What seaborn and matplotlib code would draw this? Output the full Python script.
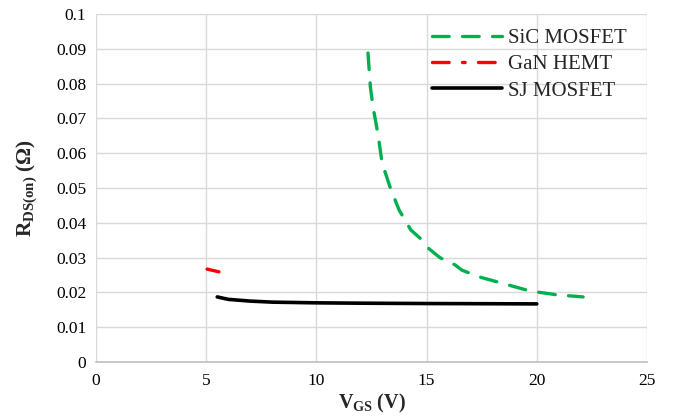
import matplotlib
matplotlib.use("Agg")
import matplotlib.pyplot as plt
import seaborn as sns
import pandas as pd

# Data
sic_vgs = [12.34, 12.45, 12.57, 12.8, 12.98, 13.34, 13.75, 14.29, 14.70, 15.06,
           15.6, 16.29, 16.6, 17.42, 18.56, 19.69, 20.92, 22.1]
sic_rds = [0.0888, 0.0790, 0.0733, 0.0652, 0.0572, 0.0503, 0.0437, 0.0379, 0.0356, 0.0328,
           0.0300, 0.0279, 0.0264, 0.0244, 0.0224, 0.0204, 0.0193, 0.0187]

gan_vgs = [5.04, 5.58]
gan_rds = [0.0267, 0.0259]

sj_vgs = [5.5, 6.0, 7.0, 8.0, 10.0, 12.0, 15.0, 20.0]
sj_rds = [0.0187, 0.0180, 0.0175, 0.0172, 0.0170, 0.0169, 0.0168, 0.0167]

x_ticks = [0, 5, 10, 15, 20, 25]
y_ticks = [0, 0.01, 0.02, 0.03, 0.04, 0.05, 0.06, 0.07, 0.08, 0.09, 0.1]
y_tick_labels = ["0", "0.01", "0.02", "0.03", "0.04", "0.05", "0.06", "0.07", "0.08", "0.09", "0.1"]

sns.set_style("white")
plt.rcParams["font.family"] = ["Liberation Serif", "DejaVu Serif"]
plt.rcParams["mathtext.fontset"] = "custom"
plt.rcParams["mathtext.rm"] = "Liberation Serif"
plt.rcParams["mathtext.bf"] = "Liberation Serif:bold"
plt.rcParams["mathtext.it"] = "Liberation Serif:italic"

fig = plt.figure(figsize=(6.79, 4.18), dpi=100)
ax = fig.add_axes([96 / 679, 1 - 362 / 418, (647 - 96) / 679, (362 - 14) / 418])

df_sic = pd.DataFrame({"x": sic_vgs, "y": sic_rds})
df_gan = pd.DataFrame({"x": gan_vgs, "y": gan_rds})
df_sj = pd.DataFrame({"x": sj_vgs, "y": sj_rds})

sns.lineplot(data=df_sic, x="x", y="y", ax=ax, color="#00B050", linewidth=2.4,
             linestyle=(0, (5, 4)), label="SiC MOSFET", sort=False)
sns.lineplot(data=df_gan, x="x", y="y", ax=ax, color="#FF0000", linewidth=2.4,
             linestyle=(0, (5, 4, 0.8, 4)), label="GaN HEMT", sort=False)
sns.lineplot(data=df_sj, x="x", y="y", ax=ax, color="black", linewidth=2.6,
             linestyle="-", label="SJ MOSFET", sort=False)

for ln in ax.get_lines():
    ln.set_solid_capstyle("round")
    ln.set_dash_capstyle("round")

ax.set_xlim(0, 25)
ax.set_ylim(0, 0.1)
ax.set_xticks(x_ticks)
ax.set_yticks(y_ticks)
ax.set_yticklabels(y_tick_labels)
ax.tick_params(axis="both", length=0, labelsize=12.5, colors="black")
ax.tick_params(axis="y", pad=7)
ax.tick_params(axis="x", pad=8)

ax.grid(True, color="#D9D9D9", linewidth=1.0)
ax.set_axisbelow(True)
for s in ["top", "right", "left"]:
    ax.spines[s].set_visible(False)
ax.spines["bottom"].set_color("#BFBFBF")
ax.spines["bottom"].set_linewidth(1.2)

ax.set_xlabel(r"$\mathbf{V_{GS}\ (V)}$", fontsize=14.5, labelpad=2)
ax.set_ylabel(r"$\mathbf{R_{DS(on)}\ (Ω)}$", fontsize=15.3, labelpad=12)

leg = ax.legend(loc="upper right", bbox_to_anchor=(0.99, 1.0), frameon=False,
                fontsize=15, handlelength=3.35, handletextpad=0.3, labelspacing=0.32,
                borderaxespad=0.3)

fig.savefig("out.png", dpi=100)
